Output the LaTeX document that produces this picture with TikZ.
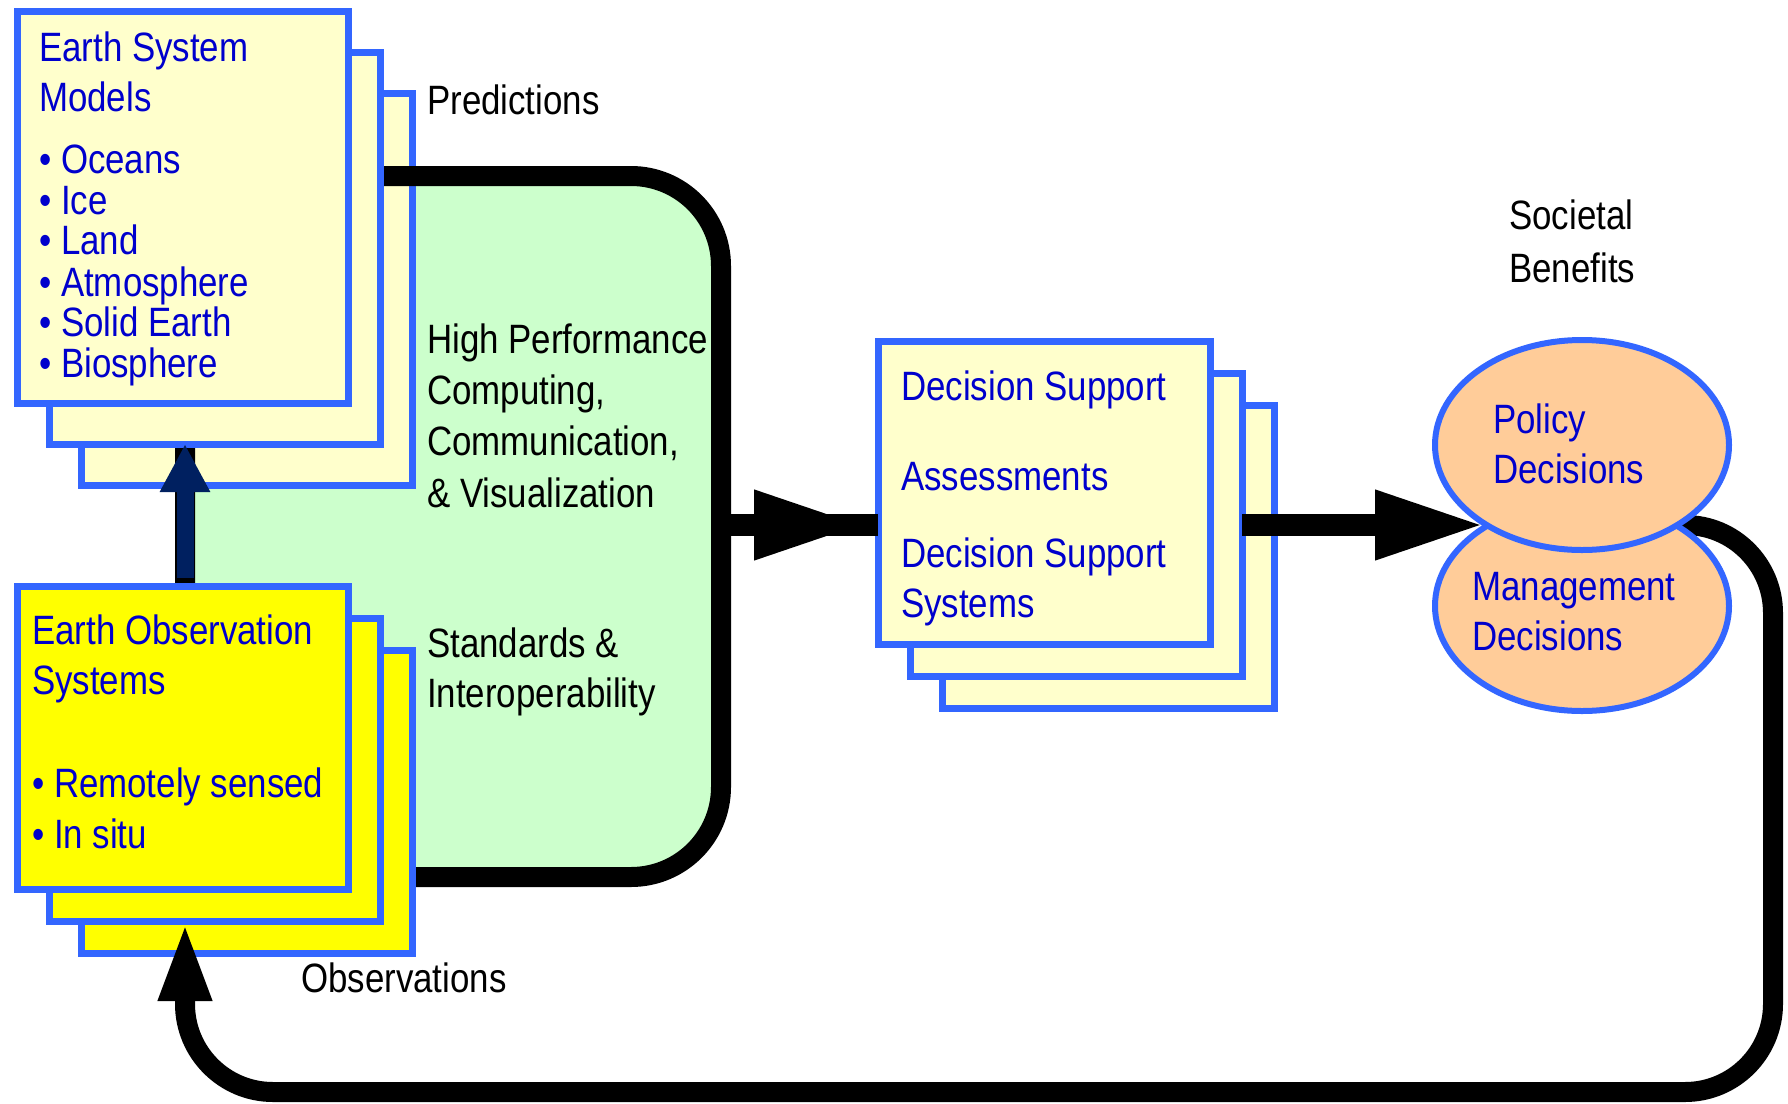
\documentclass[tikz,border=0pt]{standalone}
\usepackage{fontspec}
\setmainfont{Liberation Sans}[FakeStretch=0.85]
\usetikzlibrary{arrows.meta,shapes.geometric}
\definecolor{paper}{HTML}{FFFFCC}
\definecolor{edge}{HTML}{3366FF}
\definecolor{ink}{HTML}{0000CC}
\definecolor{mint}{HTML}{CCFFCC}
\definecolor{peach}{HTML}{FFCC99}
\definecolor{navy}{HTML}{002060}
\definecolor{lemon}{HTML}{FFFF00}
\begin{document}
\begin{tikzpicture}[x=1pt,y=-1pt,
  sheet/.style={rectangle,draw=edge,line width=7pt,fill=paper,inner sep=0pt,outer sep=0pt,
    anchor=north west,minimum width=331pt,minimum height=#1},
  obssheet/.style={sheet=#1,fill=lemon},
  bubble/.style={ellipse,draw=edge,line width=6pt,fill=peach,inner sep=0pt,outer sep=0pt,
    minimum width=294pt,minimum height=210pt},
  txt/.style={anchor=base west,inner sep=0pt,font=\fontsize{41pt}{50pt}\selectfont},
  blu/.style={txt,text=ink},
  shaft/.style={line width=22pt},
  bar/.style={line width=22pt,-{Triangle[length=110pt,width=64pt]}},
  loopline/.style={line width=20pt,rounded corners=88pt,-{Triangle[length=80pt,width=48pt]}},
  uparrow/.style={line width=17pt,navy,-{Triangle[length=48pt,width=47pt]}},
]
\useasboundingbox (0,0) rectangle (1788,1103);
\fill[white] (0,0) rectangle (1788,1103);

% computing / communication backdrop
\node[rectangle,fill=mint,rounded corners=90pt,inner sep=0pt,outer sep=0pt,
  minimum width=536pt,minimum height=701pt] (hpc) at (453,526.5) {};

% Earth system model sheets
\node[sheet=392pt] (esmback) at (81,93) {};
\draw[line width=20pt,rounded corners=90pt] (hpc.south west) rectangle (hpc.north east);
\node[sheet=392pt] (esmmid) at (49,52) {};
\node[sheet=392pt] (esm) at (17,11) {};

% coordinates for the main flow
\coordinate (row) at (0,525);
\coordinate (turn) at (1773,0);
\coordinate (floor) at (0,1092);

% observations feed the models
\draw[uparrow] (hpc.west |- 0,578) -- (hpc.west |- esmmid.south);

% Earth observation sheets
\node[obssheet=303pt] (eosback) at (81,650) {};
\node[obssheet=303pt] (eosmid) at (49,618) {};
\node[obssheet=303pt] (eos) at (17,586) {};

% decision support sheets
\node[sheet=303pt,minimum width=332pt] (dsback) at (942,405) {};
\node[sheet=303pt,minimum width=332pt] (dsmid) at (910,373) {};
\node[sheet=303pt,minimum width=332pt] (ds) at (878,341) {};

% flow arrows
\draw[shaft] (hpc.east |- row) -- (ds.west |- row);
\draw[bar,shorten >=14pt] (hpc.east |- row) -- (ds.west |- row);
\draw[bar] (dsmid.east |- row) -- (1485,525);
\draw[loopline] (1600,525) -- (turn |- row) -- (turn |- floor)
  -- (hpc.west |- floor) -- (hpc.west |- eosmid.south);

% decisions
\node[bubble] (mgmt) at (1582,606) {};
\node[bubble] (policy) at (1582,445) {};

% texts
\node[blu] (esmA) at (39,61) {Earth System};
\node[blu] (esmB) at (39,111) {Models};
\node[blu] (esmC) at (39,173) {• Oceans};
\node[blu] (esmD) at (39,214) {• Ice};
\node[blu] (esmE) at (39,254) {• Land};
\node[blu] (esmF) at (39,296) {• Atmosphere};
\node[blu] (esmG) at (39,336) {• Solid Earth};
\node[blu] (esmH) at (39,377) {• Biosphere};

\node[blu] (eosA) at (32,644) {Earth Observation};
\node[blu] (eosB) at (32,694) {Systems};
\node[blu] (eosC) at (32,797) {• Remotely sensed};
\node[blu] (eosD) at (32,848) {• In situ};

\node[blu] (dsA) at (901,400) {Decision Support};
\node[blu] (dsB) at (901,490) {Assessments};
\node[blu] (dsC) at (901,567) {Decision Support};
\node[blu] (dsD) at (901,617) {Systems};

\node[blu] (polA) at (1493,433) {Policy};
\node[blu] (polB) at (1493,483) {Decisions};
\node[blu] (mgA) at (1472,600) {Management};
\node[blu] (mgB) at (1472,650) {Decisions};

\node[txt] (pred) at (427,114) {Predictions};
\node[txt] (hpcA) at (427,353) {High Performance};
\node[txt] (hpcB) at (427,404) {Computing,};
\node[txt] (hpcC) at (427,455) {Communication,};
\node[txt] (hpcD) at (427,507) {\& Visualization};
\node[txt] (stdA) at (427,657) {Standards \&};
\node[txt] (stdB) at (427,707) {Interoperability};
\node[txt] (obs) at (301,992) {Observations};
\node[txt] (socA) at (1509,229) {Societal};
\node[txt] (socB) at (1509,282) {Benefits};
\end{tikzpicture}
\end{document}
